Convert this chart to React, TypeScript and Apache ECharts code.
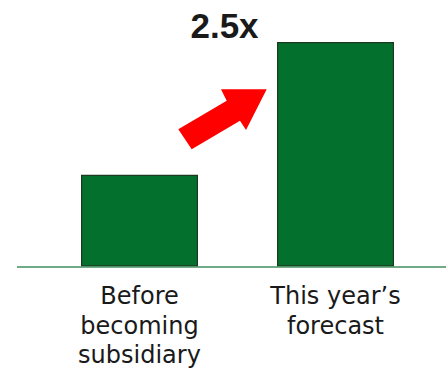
import React, { useEffect, useRef } from "react";
import * as echarts from "echarts";

const categories = ["Before\nbecoming\nsubsidiary", "This year\u2019s\nforecast"];
const values = [1.0, 2.45];
const multipleLabel = "2.5x";

export default function App() {
  const ref = useRef<HTMLDivElement>(null);
  useEffect(() => {
    const chart = echarts.init(ref.current!, null, { renderer: "svg" });
    chart.setOption({
      animation: false,
      backgroundColor: "#ffffff",
      grid: { left: 41.5, right: 12.5, top: 42, bottom: 103 },
      xAxis: {
        type: "category",
        data: categories,
        axisLine: { show: false },
        axisTick: { show: false },
        axisLabel: {
          margin: 15,
          fontSize: 24,
          lineHeight: 29.5,
          color: "#1a1a1a",
          fontFamily: "DejaVu Sans, sans-serif",
          interval: 0,
        },
      },
      yAxis: {
        type: "value",
        min: 0,
        max: 2.45,
        show: false,
        splitLine: { show: false },
      },
      series: [
        {
          type: "bar",
          data: values,
          barWidth: 117,
          itemStyle: {
            color: "#03702d",
            borderColor: "#1c3a20",
            borderWidth: 1.2,
          },
        },
      ],
      graphic: [
        {
          type: "line",
          shape: { x1: 17, y1: 267, x2: 446, y2: 267 },
          style: { stroke: "#3f8f5e", lineWidth: 1.5 },
          z: 10,
        },
        {
          type: "polygon",
          shape: {
            points: [
              [178.3, 129.3],
              [226.7, 100.7],
              [221, 89.3],
              [266.7, 89.3],
              [246, 130],
              [240, 120.7],
              [191.7, 149.3],
            ],
          },
          style: { fill: "#ff0000" },
        },
        {
          type: "text",
          x: 224.5,
          y: 25,
          style: {
            text: multipleLabel,
            fontSize: 35,
            fontWeight: "bold",
            fontFamily: "Liberation Sans, Arial, sans-serif",
            fill: "#1a1a1a",
            align: "center",
            verticalAlign: "middle",
          },
        },
      ],
    });
    return () => chart.dispose();
  }, []);
  return (
    <div
      ref={ref}
      style={{ position: "fixed", left: 0, top: 0, width: 446, height: 370 }}
    />
  );
}
